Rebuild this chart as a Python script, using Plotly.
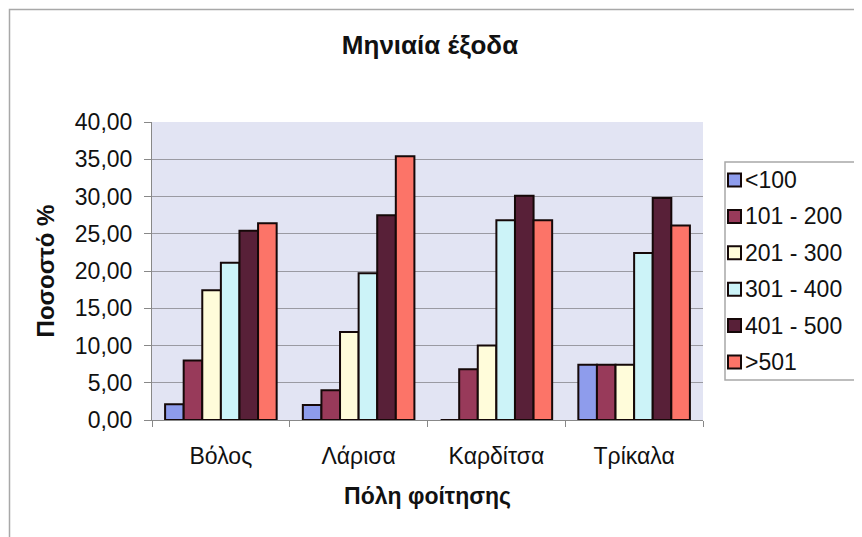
import plotly.graph_objects as go

cities = ["Βόλος", "Λάρισα", "Καρδίτσα", "Τρίκαλα"]
groups = ["<100", "101 - 200", "201 - 300", "301 - 400", "401 - 500", ">501"]

lt100 = [2.1, 2.0, 0.0, 7.4]
r101_200 = [8.0, 4.0, 6.8, 7.4]
r201_300 = [17.4, 11.8, 10.0, 7.4]
r301_400 = [21.1, 19.7, 26.8, 22.4]
r401_500 = [25.4, 27.5, 30.1, 29.8]
gt501 = [26.4, 35.4, 26.8, 26.1]

series = [lt100, r101_200, r201_300, r301_400, r401_500, gt501]
colors = ["#8E9CEC", "#983A5A", "#FFFCDA", "#CCF3F8", "#582038", "#FC7468"]

# the page has an 8px body margin, so work in window pixels minus 8
OFF = 8
W, H = 862 - OFF, 537 - OFF
L, R, T, B = 152 - OFF, 703 - OFF, 122 - OFF, 420 - OFF

fig = go.Figure()

for i in range(len(groups)):
    fig.add_trace(go.Bar(
        x=cities,
        y=series[i],
        name=groups[i],
        showlegend=False,
        marker=dict(
            color=colors[i],
            line=dict(color="#150808", width=2)
        )
    ))

def px_x(p):
    return (p - OFF - L) / (R - L)

def px_y(p):
    return (B - (p - OFF)) / (B - T)

# outer chart frame
fig.add_shape(type="rect", xref="paper", yref="paper",
              x0=px_x(9.5), x1=px_x(875), y0=px_y(548), y1=px_y(9.5),
              line=dict(color="#A8A8A8", width=1.5), layer="below")

# legend drawn by hand so the swatches sit right next to the text
fig.add_shape(type="rect", xref="paper", yref="paper",
              x0=px_x(725), x1=px_x(858), y0=px_y(380), y1=px_y(162),
              line=dict(color="#A8A8A8", width=1.5), fillcolor="white")
row_y = 180
for i in range(len(groups)):
    fig.add_shape(type="rect", xref="paper", yref="paper",
                  x0=px_x(728), x1=px_x(741), y0=px_y(row_y + 6.5), y1=px_y(row_y - 6.5),
                  line=dict(color="#150808", width=2), fillcolor=colors[i])
    fig.add_annotation(xref="paper", yref="paper", x=px_x(743), y=px_y(row_y),
                       text=groups[i], showarrow=False, xanchor="left", yanchor="middle",
                       font=dict(size=23, color="#111111"))
    row_y += 36.4

fig.update_layout(
    width=W, height=H,
    margin=dict(l=L, r=W - R, t=T, b=H - B),
    paper_bgcolor="white",
    plot_bgcolor="#E2E4F3",
    separators=", ",
    font=dict(family="Liberation Sans, Arial, sans-serif", size=23, color="#111111"),
    barmode="group",
    bargap=0.19,
    bargroupgap=0,
    showlegend=False,
    title=dict(
        text="<b>Μηνιαία έξοδα</b>",
        xref="container", x=(430 - OFF) / W, xanchor="center",
        y=1 - (45 - OFF) / H, yanchor="middle",
        font=dict(size=26, color="#111111")
    )
)

fig.update_xaxes(
    showline=True, linecolor="#888888", linewidth=1,
    ticks="outside", ticklen=6, tickcolor="#888888",
    tickson="boundaries",
    ticklabelstandoff=15,
    title=dict(text="<b>Πόλη φοίτησης</b>", font=dict(size=23), standoff=20),
    tickfont=dict(size=23)
)

fig.update_yaxes(
    range=[0, 40], dtick=5, tickformat=".2f",
    showgrid=True, gridcolor="#9A9AA2", gridwidth=1,
    showline=True, linecolor="#888888", linewidth=1,
    ticks="outside", ticklen=7, tickcolor="#888888",
    ticklabelstandoff=7,
    zeroline=False,
    title=dict(text="<b>Ποσοστό %</b>", font=dict(size=24), standoff=13),
    tickfont=dict(size=23)
)

fig.write_html("out.html")
